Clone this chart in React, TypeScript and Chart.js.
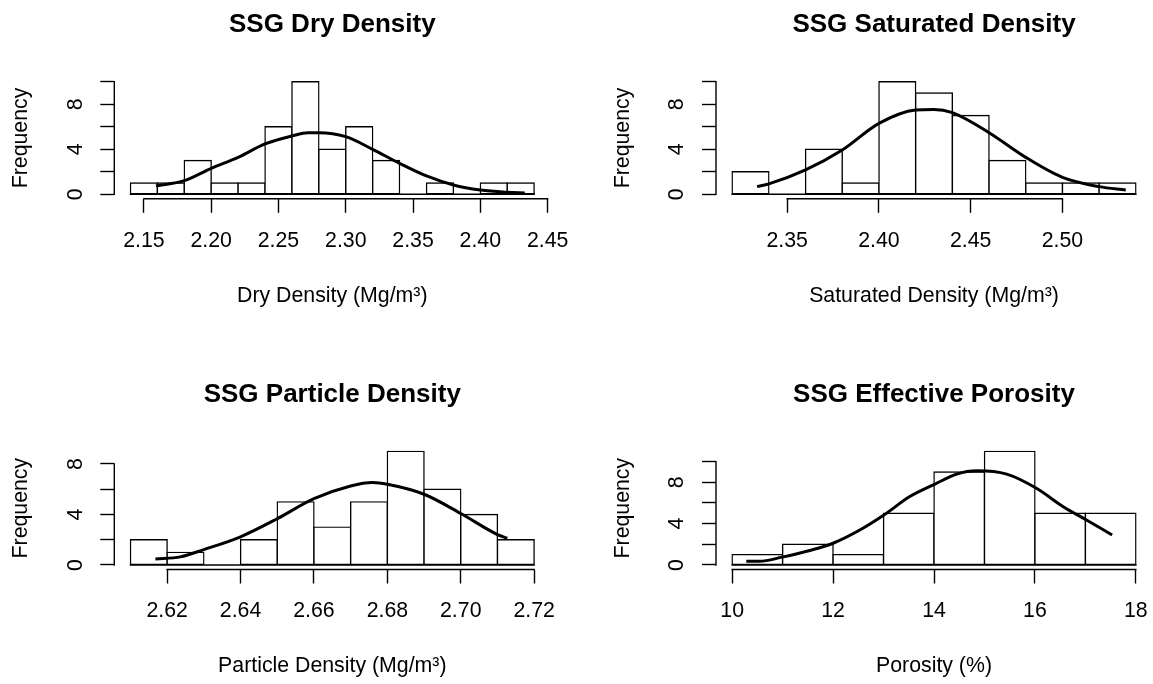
import React, { useEffect, useRef } from 'react';
import { Chart, registerables } from 'chart.js';

Chart.register(...registerables);

// ---------------- DATA ----------------
const dryBreaks = [2.14, 2.16, 2.18, 2.2, 2.22, 2.24, 2.26, 2.28, 2.3, 2.32, 2.34, 2.36, 2.38, 2.4, 2.42, 2.44];
const dryCounts = [1, 1, 3, 1, 1, 6, 10, 4, 6, 3, 0, 1, 0, 1, 1];
const dryCurveX = [2.159, 2.18, 2.2, 2.22, 2.24, 2.26, 2.272, 2.28, 2.3, 2.32, 2.34, 2.36, 2.38, 2.4, 2.42, 2.433];
const dryCurveY = [0.74, 1.21, 2.31, 3.28, 4.47, 5.18, 5.47, 5.47, 5.12, 3.99, 2.75, 1.63, 0.83, 0.38, 0.18, 0.12];
const dryTickLabels = ['2.15', '2.20', '2.25', '2.30', '2.35', '2.40', '2.45'];

const satBreaks = [2.32, 2.34, 2.36, 2.38, 2.4, 2.42, 2.44, 2.46, 2.48, 2.5, 2.52, 2.54];
const satCounts = [2, 0, 4, 1, 10, 9, 7, 3, 1, 1, 1];
const satCurveX = [2.3336, 2.34, 2.36, 2.38, 2.4, 2.42, 2.43, 2.44, 2.46, 2.48, 2.5, 2.52, 2.5345];
const satCurveY = [0.68, 0.92, 2.16, 3.93, 6.3, 7.49, 7.54, 7.25, 5.47, 3.28, 1.51, 0.68, 0.38];
const satTickLabels = ['2.35', '2.40', '2.45', '2.50'];

const partBreaks = [2.61, 2.62, 2.63, 2.64, 2.65, 2.66, 2.67, 2.68, 2.69, 2.7, 2.71, 2.72];
const partCounts = [2, 1, 0, 2, 5, 3, 5, 9, 6, 4, 2];
const partCurveX = [2.6168, 2.6236, 2.63, 2.64, 2.65, 2.66, 2.67, 2.676, 2.68, 2.69, 2.7, 2.71, 2.7127];
const partCurveY = [0.48, 0.64, 1.22, 2.23, 3.66, 5.25, 6.26, 6.53, 6.39, 5.6, 4.08, 2.41, 2.12];
const partTickLabels = ['2.62', '2.64', '2.66', '2.68', '2.70', '2.72'];

const poroBreaks = [10, 11, 12, 13, 14, 15, 16, 17, 18];
const poroCounts = [1, 2, 1, 5, 9, 11, 5, 5];
const poroCurveX = [10.28, 10.54, 10.99, 11.54, 12.0, 12.53, 13.0, 13.52, 14.02, 14.45, 14.85, 15.44, 16.03, 16.57, 17.03, 17.53];
const poroCurveY = [0.35, 0.35, 0.76, 1.4, 2.1, 3.38, 4.81, 6.62, 7.83, 8.79, 9.11, 8.79, 7.42, 5.61, 4.33, 2.9];
const poroTickLabels = ['10', '12', '14', '16', '18'];

const freqTicksTo10 = [0, 2, 4, 6, 8, 10];
const freqTicksTo8 = [0, 2, 4, 6, 8];
const freqShownLabels = [0, 4, 8];

// ---------------- STYLE / LAYOUT ----------------
const W = 1153;
const H = 684;
const CW = 1400; // canvas wider than the page so right-edge label overhang never shrinks the plot
const FONT = "'Liberation Sans', Arial, Helvetica, sans-serif";
const BASE = 21.3;
const TITLE_SIZE = 26;
const TICK_LEN = 14;
const LW = 1.4;
const CURVE_W = 3;
const YW = 103.45;
const Y_TICK_PAD = 18.5;
const X_TICK_PAD = 17.45;

type Box = { left: number; right: number; top: number; bottom: number };
type Spec = {
  title: string;
  xLabel: string;
  breaks: number[];
  counts: number[];
  curveX: number[];
  curveY: number[];
  xTickLabels: string[];
  yTicks: number[];
  plot: Box;
  titleMid: number;
  xLabelMid: number;
};

const topRow = { top: 77.2, bottom: 198.8, titleMid: 24.5, xLabelMid: 296 };
const botRow = { top: 446.8, bottom: 569.5, titleMid: 394.5, xLabelMid: 666.5 };
const leftCol = { left: 114.3, right: 550.3 };
const rightCol = { left: 716, right: 1152 };

const specs: Spec[] = [
  {
    title: 'SSG Dry Density', xLabel: 'Dry Density (Mg/m³)',
    breaks: dryBreaks, counts: dryCounts, curveX: dryCurveX, curveY: dryCurveY,
    xTickLabels: dryTickLabels, yTicks: freqTicksTo10,
    plot: { ...leftCol, top: topRow.top, bottom: topRow.bottom }, titleMid: topRow.titleMid, xLabelMid: topRow.xLabelMid,
  },
  {
    title: 'SSG Saturated Density', xLabel: 'Saturated Density (Mg/m³)',
    breaks: satBreaks, counts: satCounts, curveX: satCurveX, curveY: satCurveY,
    xTickLabels: satTickLabels, yTicks: freqTicksTo10,
    plot: { ...rightCol, top: topRow.top, bottom: topRow.bottom }, titleMid: topRow.titleMid, xLabelMid: topRow.xLabelMid,
  },
  {
    title: 'SSG Particle Density', xLabel: 'Particle Density (Mg/m³)',
    breaks: partBreaks, counts: partCounts, curveX: partCurveX, curveY: partCurveY,
    xTickLabels: partTickLabels, yTicks: freqTicksTo8,
    plot: { ...leftCol, top: botRow.top, bottom: botRow.bottom }, titleMid: botRow.titleMid, xLabelMid: botRow.xLabelMid,
  },
  {
    title: 'SSG Effective Porosity', xLabel: 'Porosity (%)',
    breaks: poroBreaks, counts: poroCounts, curveX: poroCurveX, curveY: poroCurveY,
    xTickLabels: poroTickLabels, yTicks: freqTicksTo10,
    plot: { ...rightCol, top: botRow.top, bottom: botRow.bottom }, titleMid: botRow.titleMid, xLabelMid: botRow.xLabelMid,
  },
];

// R-style axis lines (only between first and last tick) and histogram baseline
const rAxesPlugin = {
  id: 'rAxes',
  beforeDatasetsDraw(chart: any, _args: any, opts: any) {
    const { ctx, scales } = chart;
    const x = scales.x;
    const y = scales.y;
    const br: number[] = opts.breaks || [];
    if (!br.length) return;
    const y0 = y.getPixelForValue(0);
    ctx.save();
    ctx.strokeStyle = '#000';
    ctx.lineWidth = LW;
    ctx.beginPath();
    ctx.moveTo(x.getPixelForValue(br[0]) - LW / 2, y0);
    ctx.lineTo(x.getPixelForValue(br[br.length - 1]) + LW / 2, y0);
    ctx.stroke();
    ctx.restore();
  },
  afterDraw(chart: any) {
    const { ctx, chartArea, scales } = chart;
    const x = scales.x;
    const y = scales.y;
    const xt = x.ticks;
    const yt = y.ticks;
    ctx.save();
    ctx.strokeStyle = '#000';
    ctx.lineWidth = LW;
    ctx.lineCap = 'square';
    ctx.beginPath();
    ctx.moveTo(x.getPixelForValue(xt[0].value), chartArea.bottom);
    ctx.lineTo(x.getPixelForValue(xt[xt.length - 1].value), chartArea.bottom);
    ctx.moveTo(chartArea.left, y.getPixelForValue(yt[0].value));
    ctx.lineTo(chartArea.left, y.getPixelForValue(yt[yt.length - 1].value));
    ctx.stroke();
    ctx.restore();
  },
};

function makeConfig(p: Spec): any {
  const b0 = p.breaks[0];
  const b1 = p.breaks[p.breaks.length - 1];
  const span = b1 - b0;
  const maxCount = Math.max(...p.counts);
  const xTickValues = p.xTickLabels.map(Number);

  const bars = p.counts.map((c, i) => ({ x: (p.breaks[i] + p.breaks[i + 1]) / 2, y: c }));
  const curve = p.curveX.map((x, i) => ({ x, y: p.curveY[i] }));

  const padTop = p.titleMid - TITLE_SIZE / 2;
  const titlePadBottom = p.plot.top - padTop - TITLE_SIZE;
  const xAxisBottom = p.xLabelMid + BASE / 2;
  const xAxisH = xAxisBottom - p.plot.bottom;

  const tickFont = { family: FONT, size: BASE, lineHeight: 1 };

  return {
    type: 'bar',
    data: {
      datasets: [
        {
          type: 'line',
          data: curve,
          borderColor: '#000',
          borderWidth: CURVE_W,
          pointRadius: 0,
          fill: false,
          cubicInterpolationMode: 'monotone',
          borderJoinStyle: 'round',
          order: 0,
        },
        {
          type: 'bar',
          data: bars,
          backgroundColor: '#ffffff',
          borderColor: '#000',
          borderWidth: LW,
          borderSkipped: false,
          inflateAmount: LW / 2,
          barPercentage: 1,
          categoryPercentage: 1,
          grouped: false,
          order: 1,
        },
      ],
    },
    options: {
      responsive: false,
      maintainAspectRatio: false,
      animation: false,
      devicePixelRatio: 1,
      events: [],
      layout: {
        padding: {
          left: p.plot.left - YW,
          right: CW - p.plot.right,
          top: padTop,
          bottom: H - xAxisBottom,
        },
      },
      plugins: {
        legend: { display: false },
        tooltip: { enabled: false },
        title: {
          display: true,
          text: p.title,
          color: '#000',
          fullSize: false,
          align: 'center',
          font: { family: FONT, size: TITLE_SIZE, weight: 'bold', lineHeight: 1 },
          padding: { top: 0, bottom: titlePadBottom },
        },
        rAxes: { breaks: p.breaks },
      },
      scales: {
        x: {
          type: 'linear',
          position: 'bottom',
          min: b0 - 0.04 * span,
          max: b1 + 0.04 * span,
          bounds: 'data',
          offset: false,
          afterBuildTicks: (s: any) => {
            s.ticks = xTickValues.map((v) => ({ value: v }));
          },
          afterFit: (s: any) => {
            s.height = xAxisH;
          },
          grid: {
            display: true,
            offset: false,
            drawOnChartArea: false,
            drawTicks: true,
            tickLength: TICK_LEN,
            tickColor: '#000',
            tickWidth: LW,
          },
          border: { display: false },
          ticks: {
            autoSkip: false,
            maxRotation: 0,
            minRotation: 0,
            padding: X_TICK_PAD,
            color: '#000',
            font: tickFont,
            callback: (_v: any, i: number) => p.xTickLabels[i],
          },
          title: {
            display: true,
            text: p.xLabel,
            color: '#000',
            font: tickFont,
            padding: 0,
          },
        },
        y: {
          type: 'linear',
          position: 'left',
          min: -0.04 * maxCount,
          max: maxCount * 1.04,
          bounds: 'data',
          afterBuildTicks: (s: any) => {
            s.ticks = p.yTicks.map((v) => ({ value: v }));
          },
          afterFit: (s: any) => {
            s.width = YW;
          },
          grid: {
            display: true,
            drawOnChartArea: false,
            drawTicks: true,
            tickLength: TICK_LEN,
            tickColor: '#000',
            tickWidth: LW,
          },
          border: { display: false },
          ticks: {
            autoSkip: false,
            minRotation: 90,
            maxRotation: 90,
            crossAlign: 'center',
            padding: Y_TICK_PAD,
            color: '#000',
            font: tickFont,
            callback: (v: any) => (freqShownLabels.includes(Number(v)) ? String(v) : ''),
          },
          title: {
            display: true,
            text: 'Frequency',
            color: '#000',
            font: tickFont,
            padding: 0,
          },
        },
      },
    },
    plugins: [rAxesPlugin],
  };
}

function Panel({ spec }: { spec: Spec }) {
  const ref = useRef<HTMLCanvasElement | null>(null);
  useEffect(() => {
    if (!ref.current) return;
    const chart = new Chart(ref.current, makeConfig(spec));
    return () => chart.destroy();
  }, [spec]);
  return (
    <canvas
      ref={ref}
      width={CW}
      height={H}
      style={{ position: 'absolute', left: 0, top: 0, width: CW, height: H }}
    />
  );
}

export default function App() {
  Chart.defaults.font.family = FONT;
  return (
    <div
      style={{
        position: 'fixed',
        left: 0,
        top: 0,
        width: W,
        height: H,
        background: '#ffffff',
        overflow: 'hidden',
      }}
    >
      {specs.map((s) => (
        <Panel key={s.title} spec={s} />
      ))}
    </div>
  );
}
